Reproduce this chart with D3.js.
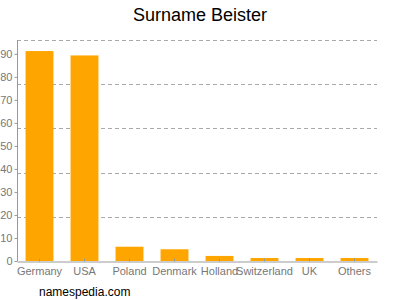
<!DOCTYPE html>
<html>
<head>
<meta charset="utf-8">
<script src="https://cdn.jsdelivr.net/npm/d3@7"></script>
<style>
  body { margin: 0; background: #fff; }
  svg { display: block; font-family: "Liberation Sans", Arial, sans-serif; }
</style>
</head>
<body>
<div id="chart"></div>
<script>
// values
var countries = ["Germany", "USA", "Poland", "Denmark", "Holland", "Switzerland", "UK", "Others"];
var percents = [91.2, 89.3, 6.2, 5.1, 2.2, 1.3, 1.3, 1.3];
var yTicks = [0, 10, 20, 30, 40, 50, 60, 70, 80, 90];
var yMax = 96;

// note: "top" clashes with window.top, so plot edges get their own names
var width = 400, height = 300,
    plotLeft = 17, plotRight = 377, plotTop = 40, plotBottom = 261;

var svg = d3.select("#chart").append("svg")
    .attr("width", width)
    .attr("height", height);

var x = d3.scaleBand()
    .domain(countries)
    .range([plotLeft, plotRight])
    .paddingInner(0.38)
    .paddingOuter(0.19);

var y = d3.scaleLinear()
    .domain([0, yMax])
    .range([plotBottom, plotTop]);

// dashed grid lines, five steps up to the top
var grid = d3.range(1, 6).map(function(i) { return yMax * i / 5; });
svg.append("g").selectAll("line")
    .data(grid)
    .enter()
    .append("line")
      .attr("x1", plotLeft)
      .attr("x2", plotRight)
      .attr("y1", function(d) { return Math.round(y(d)) + 0.5; })
      .attr("y2", function(d) { return Math.round(y(d)) + 0.5; })
      .attr("stroke", "#aaa")
      .attr("stroke-dasharray", "4,3");

svg.append("g").selectAll("rect")
    .data(percents)
    .enter()
    .append("rect")
      .attr("x", function(d, i) { return x(countries[i]); })
      .attr("width", x.bandwidth())
      .attr("y", function(d) { return y(d); })
      .attr("height", function(d) { return plotBottom - y(d); })
      .attr("fill", "#ffa500");

var yAxis = svg.append("g")
    .attr("transform", "translate(" + (plotLeft + 0.5) + ",0)")
    .call(d3.axisLeft(y).tickValues(yTicks).tickSize(3).tickPadding(2).tickSizeOuter(0));

var xAxis = svg.append("g")
    .attr("transform", "translate(0," + (plotBottom + 0.5) + ")")
    .call(d3.axisBottom(x).tickSize(-3).tickPadding(6).tickSizeOuter(0));

[yAxis, xAxis].forEach(function(ax) {
  ax.select(".domain").attr("stroke", "#999");
  ax.selectAll(".tick line").attr("stroke", "#999");
  ax.selectAll(".tick text")
      .attr("fill", "#777")
      .style("font-size", "11px")
      .style("font-family", "Liberation Sans, Arial, sans-serif");
});
// left axis runs the full plot height
yAxis.select(".domain").attr("d", "M0," + plotTop + "V" + plotBottom);

svg.append("text")
    .attr("x", 200)
    .attr("y", 21)
    .attr("text-anchor", "middle")
    .style("font-size", "18px")
    .attr("fill", "#000")
    .text("Surname Beister");

svg.append("text")
    .attr("x", 39)
    .attr("y", 296)
    .style("font-size", "12px")
    .attr("fill", "#000")
    .text("namespedia.com");
</script>
</body>
</html>
